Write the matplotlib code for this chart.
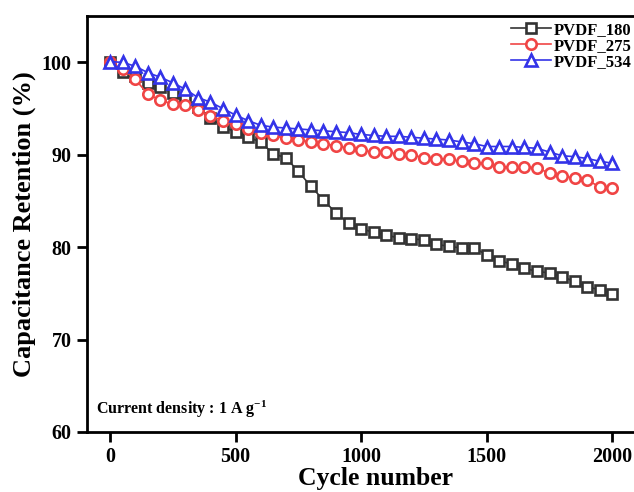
import numpy as np
import matplotlib
matplotlib.use('Agg')
import matplotlib.pyplot as plt

plt.rcParams['font.family'] = ['Liberation Serif', 'DejaVu Serif']
plt.rcParams['font.weight'] = 'bold'
plt.rcParams['mathtext.fontset'] = 'custom'
plt.rcParams['mathtext.rm'] = 'Liberation Serif:bold'
plt.rcParams['mathtext.it'] = 'Liberation Serif:bold'
plt.rcParams['mathtext.bf'] = 'Liberation Serif:bold'

# cycles, every 50 from 0 to 2000
cycles = list(range(0, 2001, 50))

pvdf_180 = [100.0, 99.0, 98.5, 97.8, 97.3, 96.7, 96.0, 95.2, 94.0, 93.0,
            92.5, 91.9, 91.4, 90.1, 89.7, 88.2, 86.6, 85.1, 83.7, 82.6,
            82.0, 81.6, 81.3, 81.0, 80.9, 80.8, 80.3, 80.1, 79.9, 79.9,
            79.2, 78.5, 78.2, 77.7, 77.4, 77.2, 76.8, 76.3, 75.7, 75.4,
            74.9]
pvdf_275 = [100.0, 99.3, 98.2, 96.6, 95.9, 95.5, 95.4, 94.8, 94.2, 93.7,
            93.3, 92.8, 92.4, 92.1, 91.8, 91.6, 91.4, 91.2, 91.0, 90.7,
            90.5, 90.3, 90.3, 90.1, 90.0, 89.7, 89.6, 89.5, 89.3, 89.1,
            89.1, 88.7, 88.7, 88.7, 88.6, 88.0, 87.7, 87.5, 87.3, 86.5,
            86.4]
pvdf_534 = [100.1, 100.0, 99.6, 98.9, 98.4, 97.8, 97.1, 96.2, 95.7, 95.0,
            94.3, 93.7, 93.2, 93.0, 92.9, 92.8, 92.7, 92.6, 92.5, 92.4,
            92.2, 92.1, 92.0, 92.0, 91.9, 91.8, 91.7, 91.6, 91.4, 91.2,
            90.9, 90.9, 90.9, 90.8, 90.7, 90.3, 89.9, 89.8, 89.6, 89.3,
            89.1]

fig = plt.figure(figsize=(6.34, 4.92), dpi=100)
# axes run past the right edge, as in the original figure
ax = fig.add_axes([0.137, 0.122, 0.91, 0.845])

ax.plot(cycles, pvdf_180, color='#333333', marker='s', ms=7, mfc='white',
        mew=1.9, lw=1.2, label='PVDF_180')
ax.plot(cycles, pvdf_275, color='#f04545', marker='o', ms=7.5, mfc='white',
        mew=1.9, lw=1.2, label='PVDF_275')
ax.plot(cycles, pvdf_534, color='#3333e8', marker='^', ms=8.5, mfc='white',
        mew=1.9, lw=1.2, label='PVDF_534')

ax.set_xlim(-92, 2205)
ax.set_ylim(60, 105)
ax.set_xticks([0, 500, 1000, 1500, 2000])
ax.set_yticks([60, 70, 80, 90, 100])
ax.tick_params(direction='out', length=7, width=2, labelsize=14.5, pad=4)
for s in ax.spines.values():
    s.set_linewidth(2)

ax.set_xlabel('Cycle number', fontsize=18.5, fontweight='bold', labelpad=0)
ax.set_ylabel('Capacitance Retention (%)', fontsize=19, fontweight='bold',
              labelpad=4)

ax.text(0.015, 0.055, r'Current density : 1 A g$^{-1}$', transform=ax.transAxes,
        fontsize=11.5, fontweight='bold', ha='left', va='center')

ax.legend(loc='upper left', bbox_to_anchor=(511 / 634, 1 - 22 / 492),
          bbox_transform=fig.transFigure, frameon=False, fontsize=12,
          handlelength=2.4, handletextpad=0.15, labelspacing=0.0,
          borderpad=0, borderaxespad=0)

plt.savefig('out.png', dpi=100)
